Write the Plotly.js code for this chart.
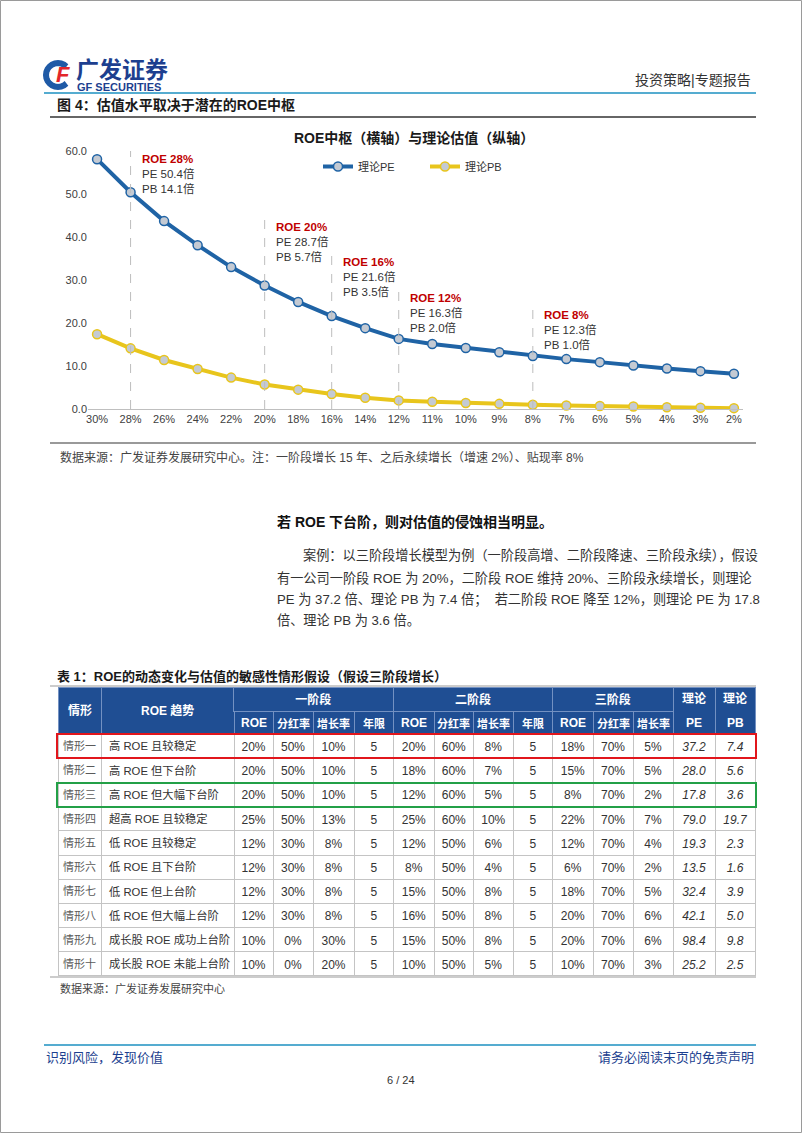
<!DOCTYPE html>
<html><head><meta charset="utf-8">
<script src="https://cdn.plot.ly/plotly-3.0.1.min.js"></script>
<style>html,body{margin:0;padding:0;background:#fff;} #page{width:802px;height:1133px;}</style>
</head><body><div id="page"></div>
<script>
// ---------------- chart data ----------------
const roeLabels = ['30%','28%','26%','24%','22%','20%','18%','16%','14%','12%','11%','10%','9%','8%','7%','6%','5%','4%','3%','2%'];
const pePoints = [58.1,50.4,43.7,38.1,33.0,28.7,24.9,21.6,18.8,16.3,15.1,14.2,13.2,12.3,11.6,10.9,10.1,9.4,8.8,8.2];
const pbPoints = [17.4,14.1,11.4,9.3,7.3,5.7,4.5,3.5,2.6,2.0,1.7,1.4,1.2,1.0,0.8,0.7,0.6,0.4,0.3,0.2];
const calloutLabels = ['28%','20%','16%','12%','8%'];

// ---------------- table data ----------------
const scenarios = ['情形一','情形二','情形三','情形四','情形五','情形六','情形七','情形八','情形九','情形十'];
const trends = ['高 ROE 且较稳定','高 ROE 但下台阶','高 ROE 但大幅下台阶','超高 ROE 且较稳定','低 ROE 且较稳定','低 ROE 且下台阶','低 ROE 但上台阶','低 ROE 但大幅上台阶','成长股 ROE 成功上台阶','成长股 ROE 未能上台阶'];
const s1ROE = [20,20,20,25,12,12,12,12,10,10];
const s1Payout = [50,50,50,50,30,30,30,30,0,0];
const s1Growth = [10,10,10,13,8,8,8,8,30,20];
const s1Years = [5,5,5,5,5,5,5,5,5,5];
const s2ROE = [20,18,12,25,12,8,15,16,15,10];
const s2Payout = [60,60,60,60,50,50,50,50,50,50];
const s2Growth = [8,7,5,10,6,4,8,8,8,5];
const s2Years = [5,5,5,5,5,5,5,5,5,5];
const s3ROE = [18,15,8,22,12,6,18,20,20,10];
const s3Payout = [70,70,70,70,70,70,70,70,70,70];
const s3Growth = [5,5,2,7,4,2,5,6,6,3];
const theoPE = [37.2,28.0,17.8,79.0,19.3,13.5,32.4,42.1,98.4,25.2];
const theoPB = [7.4,5.6,3.6,19.7,2.3,1.6,3.9,5.0,9.8,2.5];
const headMain = ['情形','ROE 趋势'];
const headGroups = ['一阶段','二阶段','三阶段'];
const headSub = ['ROE','分红率','增长率','年限','ROE','分红率','增长率','年限','ROE','分红率','增长率','PE','PB'];
const headTheo = ['理论','理论'];

// ---------------- helpers ----------------
const W = 802, H = 1133;
const px = x => x / W, py = y => 1 - y / H;
const SANS = '"Liberation Sans", Arial, "Noto Sans CJK SC", sans-serif';
const ann = [], shp = [];
function T(x, y, text, o) {
  o = o || {};
  ann.push(Object.assign({xref:'paper', yref:'paper', x:px(x), y:py(y), text:text, showarrow:false,
    xanchor:o.xa || 'left', yanchor:'middle',
    font:{family:SANS, size:o.size || 12, color:o.color || '#333'}}, o.extra || {}));
}
function L(x0, y0, x1, y1, color, width, dash) {
  shp.push({type:'line', xref:'paper', yref:'paper', x0:px(x0), y0:py(y0), x1:px(x1), y1:py(y1),
    line:{color:color, width:width, dash:dash || 'solid'}});
}
const nb = s => s.replace(/ /g, '\u00A0');

// ---------------- page furniture ----------------
shp.push({type:'rect', xref:'paper', yref:'paper', x0:px(0.5), y0:py(1132.5), x1:px(801.5), y1:py(0.5), line:{color:'#9a9a9a', width:1}});
(function(){
  const cx = 58, cy = 75, r = 12; let d = '';
  for (let a = 45; a <= 315; a += 15) {
    const rad = a * Math.PI / 180;
    const x = cx + r * Math.cos(rad), y = cy - r * Math.sin(rad);
    d += (d ? ' L ' : 'M ') + px(x) + ',' + py(y);
  }
  shp.push({type:'path', xref:'paper', yref:'paper', path:d, line:{color:'#1f5aa6', width:6}});
})();
T(63, 75, '<b><i>F</i></b>', {size:22, color:'#e3262b', xa:'center'});
T(74, 70, '<b>广发证券</b>', {size:23, color:'#1d3f8f'});
T(75, 87, '<b>GF SECURITIES</b>', {size:11, color:'#1d3f8f'});
T(753, 80, '投资策略|专题报告', {size:14, color:'#333', xa:'right'});
L(44, 93, 756, 93, '#55acd0', 2);
T(55, 105, '<b>图 4：估值水平取决于潜在的ROE中枢</b>', {size:14, color:'#1a1a1a'});
L(50, 117, 756, 117, '#333', 1.3);
T(414, 138, '<b>ROE中枢（横轴）与理论估值（纵轴）</b>', {size:14, color:'#1a1a1a', xa:'center'});
L(50, 443, 756, 443, '#777', 1.3);
T(58, 457, '数据来源：广发证券发展研究中心。注：一阶段增长 15 年、之后永续增长（增速 2%）、贴现率 8%', {size:12, color:'#444'});

T(275, 522, '<b>若 ROE 下台阶，则对估值的侵蚀相当明显。</b>', {size:14, color:'#111'});
T(301, 555, '案例：以三阶段增长模型为例（一阶段高增、二阶段降速、三阶段永续），假设', {size:13.2, color:'#333'});
T(275, 578, '有一公司一阶段 ROE 为 20%，二阶段 ROE 维持 20%、三阶段永续增长，则理论', {size:13.2, color:'#333'});
T(275, 600, 'PE 为 37.2 倍、理论 PB 为 7.4 倍；  若二阶段 ROE 降至 12%，则理论 PE 为 17.8', {size:13.2, color:'#333'});
T(275, 620, '倍、理论 PB 为 3.6 倍。', {size:13.2, color:'#333'});

T(55, 676, '<b>表 1：ROE的动态变化与估值的敏感性情形假设（假设三阶段增长）</b>', {size:13, color:'#1a1a1a'});
L(50, 686, 756, 686, '#999', 1);

// ---------------- table geometry ----------------
const colW = [43,133,39,40,41,39.5,40.5,39.5,39.5,39.5,40.5,40,40,42,40];
const bx = [58]; colW.forEach(w => bx.push(bx[bx.length-1] + w));
const hTop = 687, headH = 47, hBot = hTop + headH, rowH = 24.2;
const HB = '#1f4e93', HL = '#7391c2';
const cx = i => (bx[i] + bx[i+1]) / 2;

// header labels (drawn over the table's blank header row)
headMain.forEach((t, i) => T(cx(i), 710, '<b>' + t + '</b>', {size:12, color:'#fff', xa:'center'}));
[[2,6],[6,10],[10,13]].forEach((g, k) => {
  ann.push({xref:'paper', yref:'paper', x:px((bx[g[0]] + bx[g[1]]) / 2), y:py(hTop + 12), xanchor:'center', yanchor:'middle',
    showarrow:false, text:'<b>' + headGroups[k] + '</b>', font:{family:SANS, size:12, color:'#fff'},
    width:bx[g[1]] - bx[g[0]] - 1, height:23, borderpad:0, borderwidth:1, bordercolor:HL, bgcolor:HB});
});
headSub.forEach((t, k) => T(cx(k + 2), 723, '<b>' + t + '</b>', {size:/^[A-Z]+$/.test(t) ? 12 : 11, color:'#fff', xa:'center'}));
headTheo.forEach((t, k) => T(cx(13 + k), 698, '<b>' + t + '</b>', {size:12, color:'#fff', xa:'center'}));

// highlight boxes
function box(row, color) {
  ann.push({xref:'paper', yref:'paper', x:px(406.5), y:py(hBot + rowH*(row+0.5)), xanchor:'center', yanchor:'middle',
    text:' ', showarrow:false, width:697, height:rowH - 2, borderpad:0, borderwidth:2, bordercolor:color, bgcolor:'rgba(0,0,0,0)'});
}
box(0, '#e1161c'); box(2, '#23a047');

L(50, hBot + rowH*10 + 1, 756, hBot + rowH*10 + 1, '#999', 1);
T(58, 988, '数据来源：广发证券发展研究中心', {size:11, color:'#444'});

L(44, 1045, 756, 1045, '#55acd0', 2);
T(44, 1057, '识别风险，发现价值', {size:13, color:'#1d3f8f'});
T(756, 1057, '请务必阅读末页的免责声明', {size:13, color:'#1d3f8f', xa:'right'});
T(401, 1080, '6 / 24', {size:11, color:'#333', xa:'center'});

// ---------------- chart callouts ----------------
const calloutTop = [60.0, 44.2, 36.0, 27.7, 23.7];
calloutLabels.forEach((lab, k) => {
  const i = roeLabels.indexOf(lab);
  shp.push({type:'line', xref:'x', yref:'y', x0:lab, x1:lab, y0:0, y1:calloutTop[k], line:{color:'#bdbdbd', width:1, dash:'dash'}});
  ann.push({xref:'x', yref:'y', x:lab, y:calloutTop[k], xanchor:'left', yanchor:'top', xshift:9, align:'left', showarrow:false,
    text:'<b><span style="color:#c00000">ROE ' + lab + '</span></b><br>PE ' + pePoints[i].toFixed(1) + '倍<br>PB ' + pbPoints[i].toFixed(1) + '倍',
    font:{family:SANS, size:11.5, color:'#333'}});
});

// ---------------- traces ----------------
const pct = a => a.map(v => v + '%');
const f1 = a => a.map(v => v.toFixed(1));
const nCols = colW.length;
const colArr = (v, special) => Array.from({length:nCols}, (_, i) => (special && special[i] !== undefined) ? special[i] : v);
const traces = [
  {type:'scatter', mode:'lines+markers', name:'理论PE', x:roeLabels, y:pePoints, cliponaxis:false,
   line:{color:'#1f63a5', width:4}, marker:{size:9, color:'#c4cad3', line:{color:'#1f63a5', width:1.5}}},
  {type:'scatter', mode:'lines+markers', name:'理论PB', x:roeLabels, y:pbPoints, cliponaxis:false,
   line:{color:'#e8c51c', width:4}, marker:{size:9, color:'#c4cad3', line:{color:'#e8c51c', width:1.5}}},
  {type:'table', domain:{x:[px(bx[0]), px(bx[15])], y:[py(990), py(hTop)]}, columnwidth:colW,
   header:{values:colArr(''), height:headH, align:'center', fill:{color:HB}, line:{color:HL, width:1},
           font:{family:SANS, size:12, color:'#ffffff'}},
   cells:{values:[scenarios, trends.map(nb), pct(s1ROE), pct(s1Payout), pct(s1Growth), s1Years, pct(s2ROE), pct(s2Payout), pct(s2Growth), s2Years,
                  pct(s3ROE), pct(s3Payout), pct(s3Growth), f1(theoPE), f1(theoPB)],
     height:rowH, align:colArr('center', {1:'left'}),
     fill:{color:'#ffffff'}, line:{color:'#c4c4c4', width:1},
     font:{family:SANS, size:colArr(12, {0:11, 1:11.3}), color:colArr('#333', {0:'#5a5a5a'}), style:colArr('normal', {13:'italic', 14:'italic'})}}}
];

const layout = {
  width:W, height:H, margin:{l:0, r:0, t:0, b:0}, paper_bgcolor:'#fff', plot_bgcolor:'rgba(0,0,0,0)',
  showlegend:true,
  legend:{orientation:'h', x:px(318), y:py(152), xanchor:'left', yanchor:'top', entrywidth:62, entrywidthmode:'pixels',
          font:{family:SANS, size:11, color:'#333'}, bgcolor:'rgba(0,0,0,0)'},
  xaxis:{domain:[px(88), px(743)], range:[-0.27, 19.27], type:'category', categoryorder:'array', categoryarray:roeLabels,
         showline:true, linecolor:'#bfbfbf', linewidth:1, ticks:'', showgrid:false, zeroline:false,
         tickfont:{family:SANS, size:11, color:'#404040'}, fixedrange:true},
  yaxis:{domain:[py(409), py(151)], range:[0, 60], dtick:10, tick0:0, tickformat:'.1f', showgrid:false, zeroline:false,
         showline:false, ticks:'', tickfont:{family:SANS, size:11, color:'#404040'}, fixedrange:true},
  shapes:shp, annotations:ann
};
Plotly.newPlot('page', traces, layout, {displayModeBar:false, staticPlot:true});
</script></body></html>
